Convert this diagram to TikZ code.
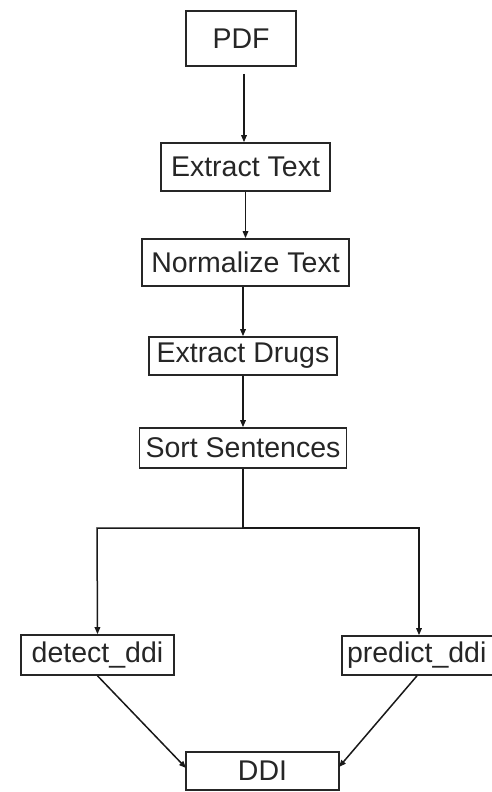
\documentclass[tikz,border=0pt]{standalone}
\usepackage{fontspec}
\setmainfont{Liberation Sans}
\usetikzlibrary{arrows.meta}
\begin{document}
\begin{tikzpicture}[x=1pt,y=1pt,
  box/.style={draw=black!85, line width=1.6pt, inner sep=0pt, text=black!85,
    font=\fontsize{28.5}{31}\selectfont, anchor=center},
  arr/.style={draw=black!90, line width=1.5pt, -{Triangle[length=7pt,width=5.5pt]}},
  ln/.style={draw=black!90, line width=1.5pt}]
\useasboundingbox (0,0) rectangle (491,-792);
\fill[white] (0,0) rectangle (491,-792);
\node[box, minimum width=110pt, minimum height=55pt] (pdf) at (241,-38.5) {PDF};
\node[box, minimum width=169pt, minimum height=48pt] (et) at (245.5,-167) {Extract Text};
\node[box, minimum width=207pt, minimum height=47pt] (nt) at (245.5,-262.5) {Normalize Text};
\node[box, minimum width=188pt, minimum height=38pt] (ed) at (243,-356) {Extract Drugs};
\node[box, minimum width=207pt, minimum height=40pt] (ss) at (243,-448) {Sort Sentences};
\node[box, minimum width=153pt, minimum height=40pt] (dd) at (97.5,-655) {detect\_ddi};
\node[box, minimum width=151pt, minimum height=39pt, text width=151pt, align=left] (pd) at (417.5,-655.5) {\hspace{5pt}predict\_ddi};
\node[box, minimum width=153pt, minimum height=38pt] (ddi) at (262.5,-771) {DDI};
\coordinate (br) at (243,-528);
\coordinate (bl) at (97,-528);
\coordinate (brr) at (419,-528);
\draw[arr, shorten <=7pt] (pdf.south -| 244,0) -- (et.north -| 244,0);
\draw[arr] (et.south) -- (nt.north);
\draw[arr] (nt.south -| ed.north) -- (ed.north);
\draw[arr] (ed.south) -- (ss.north);
\draw[ln] (ss.south) -- (br);
\draw[arr] (br) -- (bl) -- (dd.north);
\draw[arr] (br) -- (brr) -- (pd.north -| brr);
\draw[arr] (dd.south) -- (186,-768);
\draw[arr] (pd.south -| 417,0) -- (339,-767);
\end{tikzpicture}
\end{document}
